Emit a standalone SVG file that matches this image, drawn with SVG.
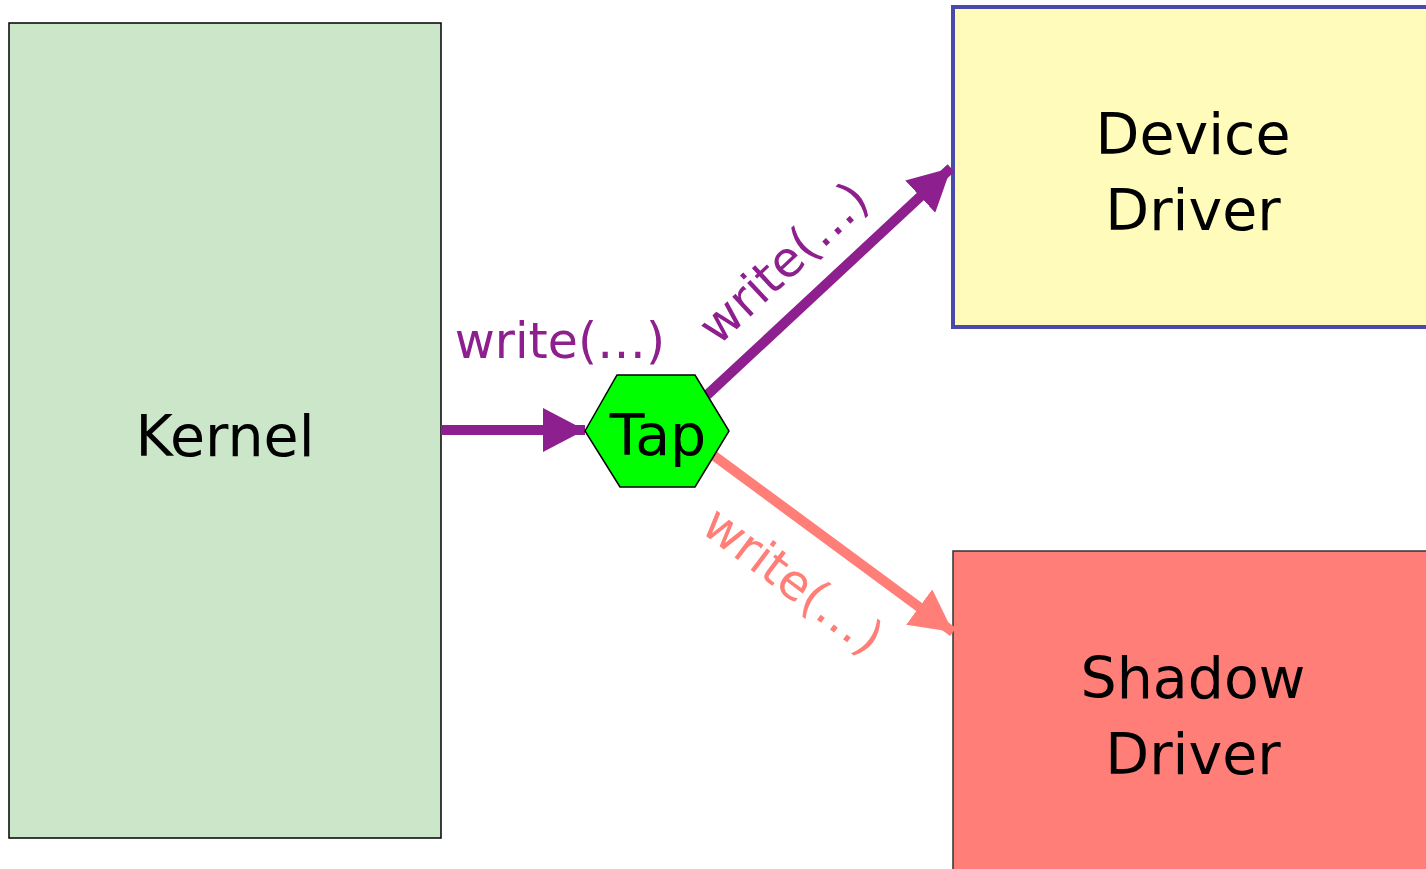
<svg xmlns="http://www.w3.org/2000/svg" width="1426" height="869" viewBox="0 0 1426 869">
<style>
.lbl{font-family:"DejaVu Sans","Liberation Sans",sans-serif;font-size:57px;fill:#000;text-anchor:middle}
.wr{font-family:"DejaVu Sans","Liberation Sans",sans-serif;font-size:49px;text-anchor:middle}
</style>
<defs>
<marker id="ap" markerUnits="userSpaceOnUse" markerWidth="44" markerHeight="44" viewBox="0 0 44 44" refX="42" refY="22" orient="auto"><path d="M0,0 L42,22 L0,44 Z" fill="#8e1f8e"/></marker>
<marker id="ar" markerUnits="userSpaceOnUse" markerWidth="44" markerHeight="44" viewBox="0 0 44 44" refX="42" refY="22" orient="auto"><path d="M0,0 L42,22 L0,44 Z" fill="#ff7f78"/></marker>
</defs>
<rect width="1426" height="869" fill="#fff"/>
<g id="kernel"><rect x="9" y="23" width="432" height="815" fill="#cbe6c8" stroke="#000" stroke-width="1.5"/><text class="lbl" x="225" y="456">Kernel</text></g>
<g id="device"><rect x="953" y="7" width="480" height="320" fill="#fffcbb" stroke="#4a4aa8" stroke-width="4"/><text class="lbl" x="1193" y="154">Device</text><text class="lbl" x="1193" y="230">Driver</text></g>
<g id="shadow"><rect x="953" y="551" width="480" height="330" fill="#ff7f78" stroke="#333" stroke-width="1.5"/><text class="lbl" x="1193" y="698">Shadow</text><text class="lbl" x="1193" y="774">Driver</text></g>
<g id="connectors">
<line x1="441" y1="430" x2="585" y2="430" stroke="#8e1f8e" stroke-width="10" marker-end="url(#ap)"/>
<line x1="707" y1="395" x2="951" y2="168" stroke="#8e1f8e" stroke-width="10" marker-end="url(#ap)"/>
<line x1="713" y1="455" x2="953" y2="632" stroke="#ff7f78" stroke-width="10" marker-end="url(#ar)"/>
<text class="wr" x="560" y="358" fill="#8e1f8e">write(…)</text>
<text class="wr" transform="translate(795,275) rotate(-43)" fill="#8e1f8e">write(…)</text>
<text class="wr" transform="translate(783,594) rotate(37)" fill="#ff7f78">write(…)</text>
</g>
<g id="tap"><polygon points="585,431 617,375 695,375 729,431 695,487 620,487" fill="#00ff00" stroke="#000" stroke-width="1.5"/><text class="lbl" x="658" y="455">Tap</text></g>
</svg>
